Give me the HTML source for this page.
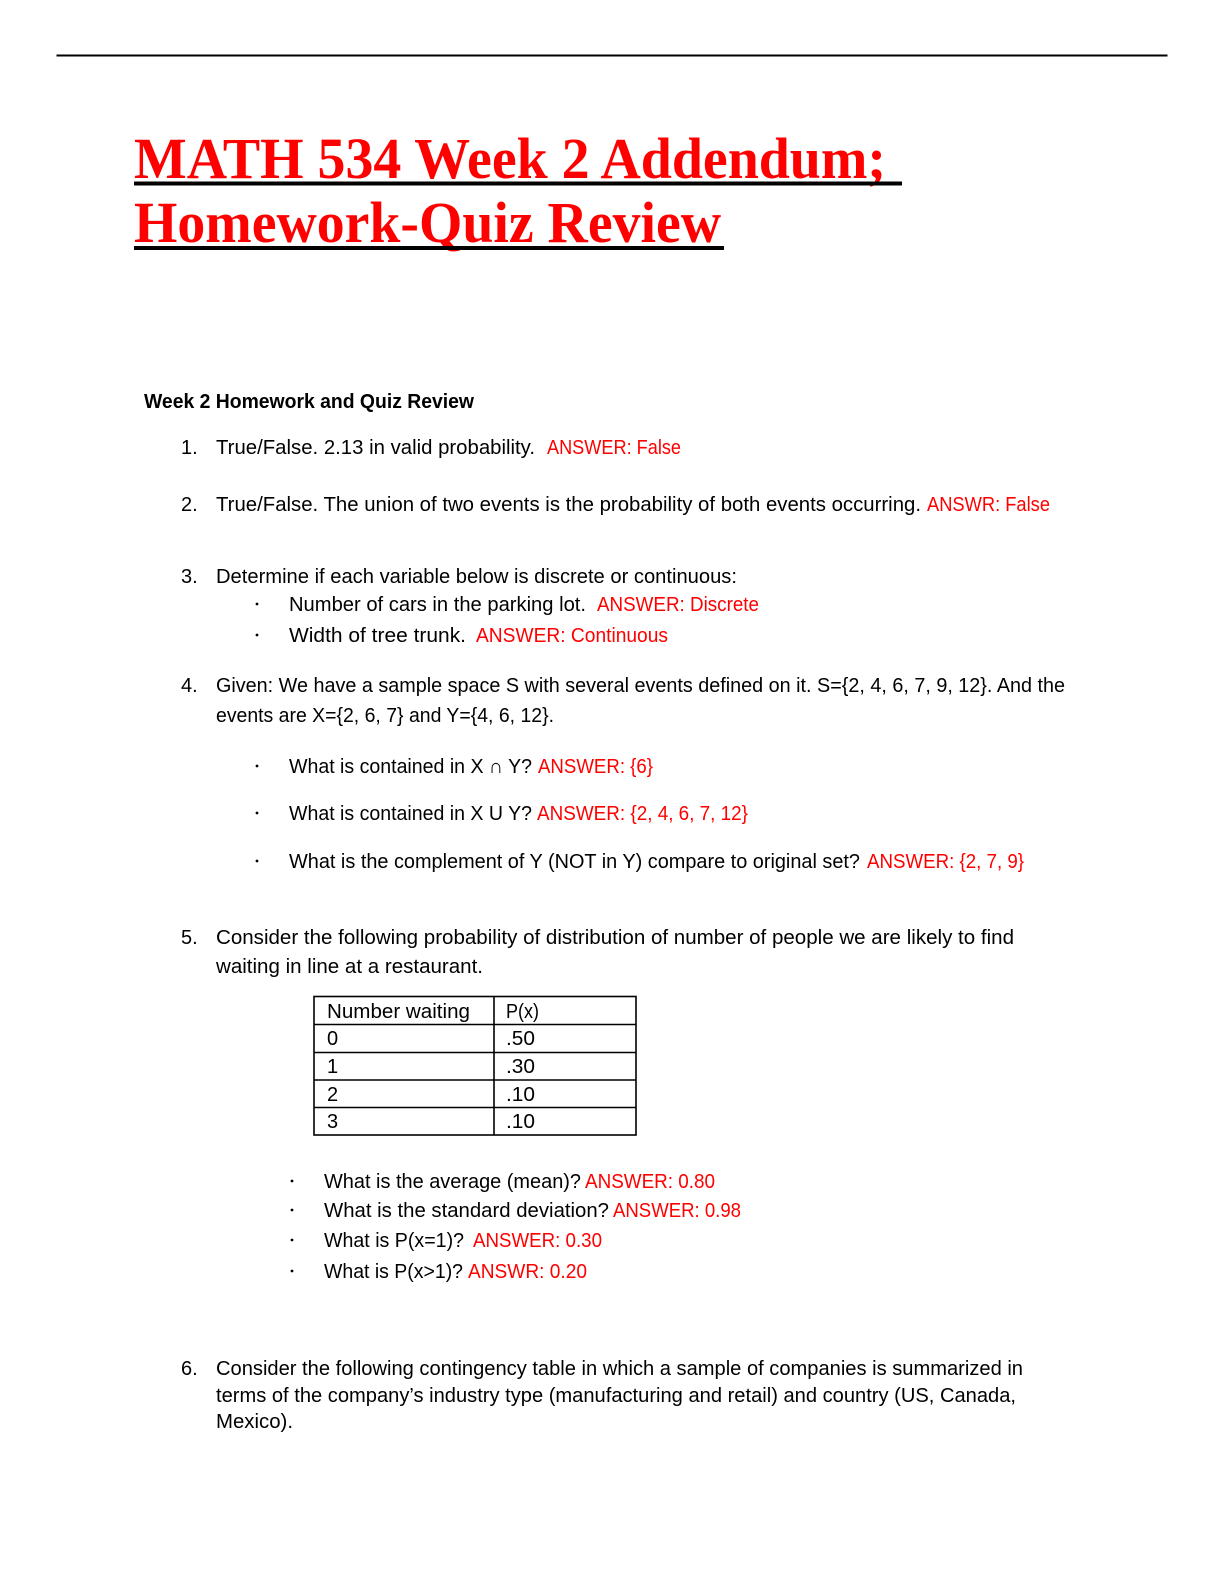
<!DOCTYPE html>
<html>
<head>
<meta charset="utf-8">
<style>
  html,body{margin:0;padding:0;background:#fff;}
  svg{display:block;}
  .b{font-family:"Liberation Sans",sans-serif;font-size:20px;fill:#000;}
  .r{font-family:"Liberation Sans",sans-serif;font-size:20px;fill:#ff0000;}
  .h{font-family:"Liberation Sans",sans-serif;font-size:20px;font-weight:bold;fill:#000;}
  .t{font-family:"Liberation Serif",serif;font-size:58px;font-weight:bold;fill:#ff0000;}
</style>
</head>
<body>
<svg width="1224" height="1584" viewBox="0 0 1224 1584" xmlns="http://www.w3.org/2000/svg">
  <rect x="0" y="0" width="1224" height="1584" fill="#fff"/>
  <!-- top rule -->
  <rect x="56.5" y="54.5" width="1111" height="2" fill="#000"/>

  <!-- Title -->
  <text class="t" x="134" y="178" textLength="752" lengthAdjust="spacingAndGlyphs">MATH 534 Week 2 Addendum;</text>
  <rect x="134" y="181.5" width="768" height="4" fill="#000"/>
  <text class="t" x="134" y="242" textLength="587" lengthAdjust="spacingAndGlyphs">Homework-Quiz Review</text>
  <rect x="134" y="246" width="590" height="4" fill="#000"/>

  <!-- Header -->
  <text class="h" x="144" y="408" textLength="330" lengthAdjust="spacingAndGlyphs">Week 2 Homework and Quiz Review</text>

  <!-- 1 -->
  <text class="b" x="181" y="454">1.</text>
  <text class="b" x="216" y="454" textLength="319" lengthAdjust="spacingAndGlyphs">True/False.  2.13 in valid probability.</text>
  <text class="r" x="547" y="454" textLength="134" lengthAdjust="spacingAndGlyphs">ANSWER: False</text>

  <!-- 2 -->
  <text class="b" x="181" y="511">2.</text>
  <text class="b" x="216" y="511" textLength="705" lengthAdjust="spacingAndGlyphs">True/False.  The union of two events is the probability of both events occurring.</text>
  <text class="r" x="927" y="511" textLength="123" lengthAdjust="spacingAndGlyphs">ANSWR: False</text>

  <!-- 3 -->
  <text class="b" x="181" y="583">3.</text>
  <text class="b" x="216" y="583" textLength="521" lengthAdjust="spacingAndGlyphs">Determine if each variable below is discrete or continuous:</text>
  <circle cx="257" cy="604" r="1.4" fill="#000"/>
  <text class="b" x="289" y="611" textLength="297" lengthAdjust="spacingAndGlyphs">Number of cars in the parking lot.</text>
  <text class="r" x="597" y="611" textLength="162" lengthAdjust="spacingAndGlyphs">ANSWER: Discrete</text>
  <circle cx="257" cy="635" r="1.4" fill="#000"/>
  <text class="b" x="289" y="642" textLength="177" lengthAdjust="spacingAndGlyphs">Width of tree trunk.</text>
  <text class="r" x="476" y="642" textLength="192" lengthAdjust="spacingAndGlyphs">ANSWER: Continuous</text>

  <!-- 4 -->
  <text class="b" x="181" y="692">4.</text>
  <text class="b" x="216" y="692" textLength="849" lengthAdjust="spacingAndGlyphs">Given: We have a sample space S with several events defined on it. S={2, 4, 6, 7, 9, 12}. And the</text>
  <text class="b" x="216" y="722" textLength="338" lengthAdjust="spacingAndGlyphs">events are X={2, 6, 7} and Y={4, 6, 12}.</text>

  <circle cx="257" cy="766" r="1.4" fill="#000"/>
  <text class="b" x="289" y="773" textLength="243" lengthAdjust="spacingAndGlyphs">What is contained in X ∩ Y?</text>
  <text class="r" x="538" y="773" textLength="115" lengthAdjust="spacingAndGlyphs">ANSWER: {6}</text>

  <circle cx="257" cy="813" r="1.4" fill="#000"/>
  <text class="b" x="289" y="820" textLength="243" lengthAdjust="spacingAndGlyphs">What is contained in X U Y?</text>
  <text class="r" x="537" y="820" textLength="211" lengthAdjust="spacingAndGlyphs">ANSWER: {2, 4, 6, 7, 12}</text>

  <circle cx="257" cy="861" r="1.4" fill="#000"/>
  <text class="b" x="289" y="868" textLength="571" lengthAdjust="spacingAndGlyphs">What is the complement of Y (NOT in Y) compare to original set?</text>
  <text class="r" x="867" y="868" textLength="157" lengthAdjust="spacingAndGlyphs">ANSWER: {2, 7, 9}</text>

  <!-- 5 -->
  <text class="b" x="181" y="944">5.</text>
  <text class="b" x="216" y="944" textLength="798" lengthAdjust="spacingAndGlyphs">Consider the following probability of distribution of number of people we are likely to find</text>
  <text class="b" x="216" y="973" textLength="267" lengthAdjust="spacingAndGlyphs">waiting in line at a restaurant.</text>

  <!-- table -->
  <g stroke="#000" stroke-width="1.6" fill="none">
    <rect x="314" y="996.5" width="322" height="138.5"/>
    <line x1="494" y1="996.5" x2="494" y2="1135"/>
    <line x1="314" y1="1024.5" x2="636" y2="1024.5"/>
    <line x1="314" y1="1052.5" x2="636" y2="1052.5"/>
    <line x1="314" y1="1080" x2="636" y2="1080"/>
    <line x1="314" y1="1107.5" x2="636" y2="1107.5"/>
  </g>
  <text class="b" x="327" y="1018" textLength="143" lengthAdjust="spacingAndGlyphs">Number waiting</text>
  <text class="b" x="506" y="1018" textLength="33" lengthAdjust="spacingAndGlyphs">P(x)</text>
  <text class="b" x="327" y="1045">0</text>
  <text class="b" x="506" y="1045" textLength="29" lengthAdjust="spacingAndGlyphs">.50</text>
  <text class="b" x="327" y="1073">1</text>
  <text class="b" x="506" y="1073" textLength="29" lengthAdjust="spacingAndGlyphs">.30</text>
  <text class="b" x="327" y="1101">2</text>
  <text class="b" x="506" y="1101" textLength="29" lengthAdjust="spacingAndGlyphs">.10</text>
  <text class="b" x="327" y="1128">3</text>
  <text class="b" x="506" y="1128" textLength="29" lengthAdjust="spacingAndGlyphs">.10</text>

  <!-- bullets after table -->
  <circle cx="292" cy="1181" r="1.4" fill="#000"/>
  <text class="b" x="324" y="1188" textLength="257" lengthAdjust="spacingAndGlyphs">What is the average (mean)?</text>
  <text class="r" x="585" y="1188" textLength="130" lengthAdjust="spacingAndGlyphs">ANSWER: 0.80</text>

  <circle cx="292" cy="1210" r="1.4" fill="#000"/>
  <text class="b" x="324" y="1217" textLength="285" lengthAdjust="spacingAndGlyphs">What is the standard deviation?</text>
  <text class="r" x="613" y="1217" textLength="128" lengthAdjust="spacingAndGlyphs">ANSWER: 0.98</text>

  <circle cx="292" cy="1240" r="1.4" fill="#000"/>
  <text class="b" x="324" y="1247" textLength="140" lengthAdjust="spacingAndGlyphs">What is P(x=1)?</text>
  <text class="r" x="473" y="1247" textLength="129" lengthAdjust="spacingAndGlyphs">ANSWER: 0.30</text>

  <circle cx="292" cy="1271" r="1.4" fill="#000"/>
  <text class="b" x="324" y="1278" textLength="139" lengthAdjust="spacingAndGlyphs">What is P(x&gt;1)?</text>
  <text class="r" x="468" y="1278" textLength="119" lengthAdjust="spacingAndGlyphs">ANSWR: 0.20</text>

  <!-- 6 -->
  <text class="b" x="181" y="1375">6.</text>
  <text class="b" x="216" y="1375" textLength="807" lengthAdjust="spacingAndGlyphs">Consider the following contingency table in which a sample of companies is summarized in</text>
  <text class="b" x="216" y="1402" textLength="800" lengthAdjust="spacingAndGlyphs">terms of the company’s industry type (manufacturing and retail) and country (US, Canada,</text>
  <text class="b" x="216" y="1428" textLength="77" lengthAdjust="spacingAndGlyphs">Mexico).</text>
</svg>
</body>
</html>
